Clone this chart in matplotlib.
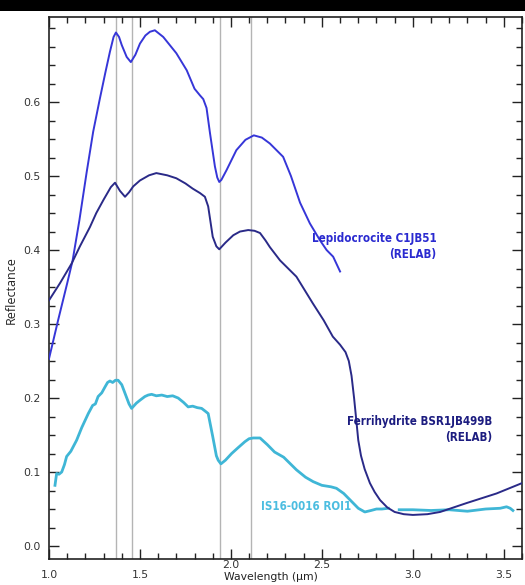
import numpy as np
import matplotlib
matplotlib.use("Agg")
import matplotlib.pyplot as plt
from matplotlib.patches import Rectangle
from matplotlib.ticker import MultipleLocator
from matplotlib import font_manager

# Lepidocrocite C1JB51 (RELAB)
lepi_wl = [1.00, 1.05, 1.10, 1.13, 1.167, 1.207, 1.243, 1.28, 1.31, 1.335, 1.355, 1.368,
           1.385, 1.40, 1.427, 1.45, 1.475, 1.50, 1.53, 1.555, 1.582, 1.628, 1.70, 1.757,
           1.80, 1.83, 1.848, 1.866, 1.885, 1.912, 1.925, 1.936, 1.948, 1.976, 2.03,
           2.08, 2.126, 2.17, 2.214, 2.287, 2.33, 2.38, 2.434, 2.49, 2.526, 2.562, 2.60]
lepi_refl = [0.253, 0.305, 0.355, 0.386, 0.440, 0.505, 0.560, 0.605, 0.640, 0.668, 0.688, 0.694,
             0.688, 0.677, 0.661, 0.654, 0.664, 0.679, 0.690, 0.695, 0.697, 0.688, 0.666, 0.643,
             0.618, 0.609, 0.604, 0.592, 0.558, 0.513, 0.498, 0.492, 0.495, 0.508, 0.535,
             0.549, 0.555, 0.552, 0.544, 0.526, 0.500, 0.464, 0.436, 0.413, 0.400, 0.391, 0.371]

# Ferrihydrite BSR1JB499B (RELAB)
ferri_wl = [1.00, 1.06, 1.125, 1.17, 1.225, 1.26, 1.30, 1.34, 1.363, 1.39, 1.418,
            1.44, 1.463, 1.50, 1.55, 1.59, 1.65, 1.70, 1.75, 1.79, 1.83, 1.857,
            1.875, 1.90, 1.92, 1.936, 1.97, 2.013, 2.05, 2.095, 2.13, 2.16, 2.19,
            2.214, 2.27, 2.36, 2.45, 2.51, 2.56, 2.60, 2.63, 2.648, 2.663, 2.677,
            2.69, 2.70, 2.715, 2.735, 2.764, 2.79, 2.82, 2.86, 2.90, 2.95, 3.00,
            3.08, 3.15, 3.295, 3.46, 3.60]
ferri_refl = [0.332, 0.355, 0.382, 0.405, 0.431, 0.450, 0.468, 0.485, 0.491, 0.480, 0.472,
              0.478, 0.486, 0.494, 0.501, 0.504, 0.501, 0.497, 0.490, 0.483, 0.477, 0.472,
              0.459, 0.418, 0.405, 0.401, 0.410, 0.420, 0.425, 0.427, 0.426, 0.423, 0.413,
              0.404, 0.386, 0.364, 0.328, 0.305, 0.283, 0.272, 0.262, 0.250, 0.230, 0.200,
              0.168, 0.143, 0.122, 0.104, 0.085, 0.073, 0.062, 0.052, 0.046, 0.043, 0.042,
              0.043, 0.046, 0.058, 0.071, 0.085]

# IS16-0016 ROI1 (gap in the data near 2.9 um)
roi_wl = [1.033, 1.042, 1.055, 1.07, 1.085, 1.097, 1.12, 1.152, 1.18, 1.216, 1.24,
          1.255, 1.27, 1.29, 1.308, 1.322, 1.335, 1.35, 1.365, 1.38, 1.40, 1.42,
          1.44, 1.454, 1.48, 1.50, 1.527, 1.545, 1.564, 1.59, 1.62, 1.65, 1.68,
          1.71, 1.74, 1.765, 1.79, 1.815, 1.839, 1.86, 1.875, 1.90, 1.92, 1.93,
          1.945, 1.97, 2.004, 2.04, 2.077, 2.10, 2.123, 2.16, 2.20, 2.24, 2.29,
          2.36, 2.41, 2.452, 2.50, 2.55, 2.58, 2.62, 2.672, 2.70, 2.736, 2.77,
          2.80, 2.83, 2.865, 2.895, 2.925, 3.00, 3.10, 3.20, 3.30, 3.40, 3.48,
          3.515, 3.535, 3.55]
roi_refl = [0.082, 0.098, 0.097, 0.100, 0.110, 0.121, 0.128, 0.143, 0.160, 0.179, 0.190,
            0.192, 0.202, 0.207, 0.215, 0.221, 0.223, 0.221, 0.224, 0.224, 0.218, 0.205,
            0.192, 0.186, 0.193, 0.197, 0.202, 0.204, 0.205, 0.203, 0.204, 0.202, 0.203,
            0.200, 0.194, 0.188, 0.189, 0.187, 0.186, 0.182, 0.179, 0.148, 0.122, 0.116,
            0.111, 0.116, 0.125, 0.133, 0.141, 0.145, 0.146, 0.146, 0.137, 0.127, 0.120,
            0.103, 0.093, 0.087, 0.082, 0.080, 0.078, 0.071, 0.058, 0.051, 0.046, 0.048,
            0.050, 0.050, 0.051, np.nan, 0.049, 0.049, 0.048, 0.049, 0.047, 0.050, 0.051,
            0.053, 0.051, 0.048]

# Absorption band positions (um)
band_wl = [1.37, 1.455, 1.94, 2.11]

x_ticks = [1.0, 1.5, 2.0, 2.5, 3.0, 3.5]
x_ticklabels = ["1.0", "1.5", "2.0", "2.5", "3.0", "3.5"]
y_ticks = [0.0, 0.1, 0.2, 0.3, 0.4, 0.5, 0.6]
y_ticklabels = ["0.0", "0.1", "0.2", "0.3", "0.4", "0.5", "0.6"]

c_lepi = "#3636d8"
c_ferri = "#2a2a88"
c_roi = "#3fb6d6"

label_font = ["Open Sans", "DejaVu Sans"]

# narrow bold face for the series names
_cond = font_manager.findfont(font_manager.FontProperties(
    family="DejaVu Sans", weight="bold", stretch="condensed"))
if "Condensed" in _cond:
    series_kw = dict(family="DejaVu Sans", fontstretch="condensed", fontsize=8.3)
else:
    series_kw = dict(family="Lato", fontsize=8.5)

fig = plt.figure(figsize=(5.25, 5.85), dpi=100)
ax = fig.add_axes([0.0933, 0.0444, 0.901, 0.9266])

# black band across the top of the figure
fig.patches.append(Rectangle((0, 0.981), 1, 0.019, transform=fig.transFigure,
                             facecolor="black", edgecolor="none", zorder=0))

for b in band_wl:
    ax.axvline(b, color="#b4b4b4", lw=1.0, zorder=1)

ax.plot(lepi_wl, lepi_refl, color=c_lepi, lw=1.4, zorder=3)
ax.plot(ferri_wl, ferri_refl, color=c_ferri, lw=1.4, zorder=3)
ax.plot(roi_wl, roi_refl, color=c_roi, lw=2.0, zorder=2)

ax.set_xlim(1.0, 3.6)
ax.set_ylim(-0.0176, 0.715)

ax.set_xticks(x_ticks)
ax.set_xticklabels(x_ticklabels)
ax.set_yticks(y_ticks)
ax.set_yticklabels(y_ticklabels)
ax.xaxis.set_minor_locator(MultipleLocator(0.1))
ax.yaxis.set_minor_locator(MultipleLocator(0.025))

ax.tick_params(which="both", direction="in", top=True, right=True,
               colors="#222222", labelcolor="#333333", labelsize=7.8)
ax.tick_params(which="major", length=7, width=1.0)
ax.tick_params(which="minor", length=4, width=1.0)
ax.tick_params(axis="x", which="major", pad=8)
ax.tick_params(axis="y", which="major", pad=6)
for lab in ax.get_xticklabels() + ax.get_yticklabels():
    lab.set_fontfamily("DejaVu Sans")

# labels at 2.0 and 2.5 sit closer to the axis
for i, tick in enumerate(ax.xaxis.get_major_ticks()):
    if x_ticklabels[i] in ("2.0", "2.5"):
        tick.set_pad(1.0)

for s in ax.spines.values():
    s.set_linewidth(1.2)
    s.set_color("#222222")

ax.set_ylabel("Reflectance", fontsize=9, family=label_font, color="#222222")
ax.yaxis.set_label_coords(-0.066, 0.496)
ax.set_xlabel("Wavelength (\u00b5m)", fontsize=7.8, family="DejaVu Sans", color="#222222")
ax.xaxis.set_label_coords(0.469, -0.0245)

ax.text(3.13, 0.405, "Lepidocrocite C1JB51\n(RELAB)", color="#2a2ad0",
        fontweight="bold", ha="right", va="center", multialignment="right",
        linespacing=1.3, **series_kw)
ax.text(3.434, 0.158, "Ferrihydrite BSR1JB499B\n(RELAB)", color="#1c1c80",
        fontweight="bold", ha="right", va="center", multialignment="right",
        linespacing=1.3, **series_kw)
ax.text(2.163, 0.054, "IS16-0016 ROI1", color="#4cbde0",
        fontweight="bold", ha="left", va="center", **series_kw)

fig.savefig("out.png", dpi=100)
